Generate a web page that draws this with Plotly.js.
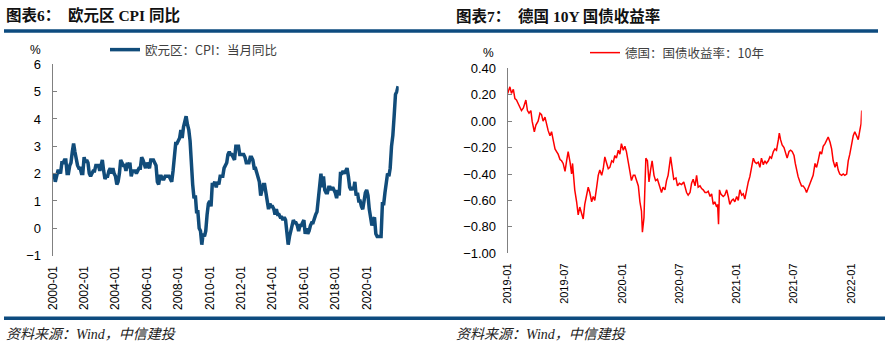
<!DOCTYPE html>
<html><head><meta charset="utf-8">
<script src="https://cdn.plot.ly/plotly-3.0.1.min.js"></script>
<style>html,body{margin:0;padding:0;background:#fff}#chart{width:885px;height:350px}</style>
</head><body><div id="chart"></div>
<script>
// ---------- Left chart: Euro area CPI YoY (monthly, from 2000-01) ----------
const cpiFirstYear = 2000;
const euroCpiYoY = [
  1.9,2.0,1.7,1.9,2.1,2.1,2.0,2.4,2.4,2.5,2.5,2.0,   // 2000
  2.0,2.3,2.4,2.8,3.1,2.8,2.5,2.3,2.2,2.2,2.0,2.0,   // 2001
  2.6,2.4,2.5,2.4,2.0,1.9,2.0,2.1,2.1,2.3,2.3,2.3,   // 2002
  2.1,2.4,2.5,2.1,1.8,1.9,1.9,2.1,2.2,2.0,2.2,2.0,   // 2003
  1.9,1.6,1.7,2.0,2.5,2.4,2.3,2.3,2.1,2.4,2.2,2.4,   // 2004
  1.9,2.1,2.1,2.1,2.0,2.1,2.2,2.2,2.6,2.5,2.3,2.2,   // 2005
  2.4,2.3,2.2,2.5,2.5,2.5,2.4,2.3,1.7,1.6,1.9,1.9,   // 2006
  1.8,1.8,1.9,1.9,1.9,1.9,1.8,1.7,2.1,2.6,3.1,3.1,   // 2007
  3.2,3.3,3.6,3.3,3.7,4.0,4.1,3.8,3.6,3.2,2.1,1.6,   // 2008
  1.1,1.2,0.6,0.6,0.0,-0.1,-0.6,-0.2,-0.3,-0.1,0.5,0.9, // 2009
  1.0,0.8,1.6,1.6,1.7,1.5,1.7,1.6,1.9,1.9,1.9,2.2,   // 2010
  2.3,2.4,2.7,2.8,2.7,2.7,2.6,2.5,3.0,3.0,3.0,2.7,   // 2011
  2.7,2.7,2.7,2.6,2.4,2.4,2.4,2.6,2.6,2.5,2.2,2.2,   // 2012
  2.0,1.8,1.7,1.2,1.4,1.6,1.6,1.3,1.1,0.7,0.9,0.8,   // 2013
  0.8,0.7,0.5,0.7,0.5,0.5,0.4,0.4,0.3,0.4,0.3,-0.2,  // 2014
  -0.6,-0.3,-0.1,0.0,0.3,0.2,0.2,0.1,-0.1,0.1,0.1,0.2, // 2015
  0.3,-0.2,0.0,-0.2,-0.1,0.1,0.2,0.2,0.4,0.5,0.6,1.1, // 2016
  1.7,2.0,1.5,1.9,1.4,1.3,1.3,1.5,1.5,1.4,1.5,1.4,   // 2017
  1.3,1.1,1.4,1.2,2.0,2.0,2.1,2.0,2.1,2.2,1.9,1.5,   // 2018
  1.4,1.5,1.4,1.7,1.2,1.3,1.0,1.0,0.8,0.7,1.0,1.3,   // 2019
  1.4,1.2,0.7,0.3,0.1,0.3,0.4,-0.2,-0.3,-0.3,-0.3,-0.3, // 2020
  0.9,0.9,1.3,1.6,2.0,1.9,2.2,3.0,3.4,4.1,4.9,5.0,   // 2021
  5.2                                                 // 2022-01
];
const leftTickLabels = ['2000-01','2002-01','2004-01','2006-01','2008-01','2010-01','2012-01','2014-01','2016-01','2018-01','2020-01'];
const leftSeriesName = '欧元区：CPI：当月同比';

// ---------- Right chart: German 10Y Bund yield ----------
const bundDates = [
 '2019-01-01','2019-01-08','2019-01-13','2019-01-19','2019-01-24','2019-01-29',
 '2019-02-04','2019-02-09','2019-02-14','2019-02-20','2019-02-25','2019-02-28',
 '2019-03-05','2019-03-10','2019-03-16','2019-03-20','2019-03-27',
 '2019-04-01','2019-04-08','2019-04-14','2019-04-19','2019-04-24','2019-04-30',
 '2019-05-05','2019-05-10','2019-05-16','2019-05-21','2019-05-26',
 '2019-06-01','2019-06-06','2019-06-11','2019-06-17','2019-06-22','2019-06-27',
 '2019-07-03','2019-07-08','2019-07-13','2019-07-19','2019-07-24','2019-07-27','2019-07-30',
 '2019-08-03','2019-08-09','2019-08-14','2019-08-19','2019-08-25','2019-08-30',
 '2019-09-04','2019-09-10','2019-09-15','2019-09-20','2019-09-26',
 '2019-10-01','2019-10-06','2019-10-12','2019-10-17','2019-10-22','2019-10-28',
 '2019-11-02','2019-11-07','2019-11-13','2019-11-18','2019-11-23','2019-11-29',
 '2019-12-04','2019-12-09','2019-12-14','2019-12-20','2019-12-25','2019-12-30',
 '2020-01-05','2020-01-10','2020-01-15','2020-01-21','2020-01-26','2020-01-31',
 '2020-02-06','2020-02-11','2020-02-16','2020-02-22','2020-02-27',
 '2020-03-03','2020-03-06','2020-03-11','2020-03-14','2020-03-17','2020-03-22','2020-03-27',
 '2020-04-01','2020-04-06','2020-04-12','2020-04-17','2020-04-23','2020-04-29',
 '2020-05-06','2020-05-11','2020-05-17','2020-05-22','2020-05-27',
 '2020-06-04','2020-06-09','2020-06-14','2020-06-21','2020-06-26',
 '2020-07-02','2020-07-09','2020-07-16','2020-07-25','2020-07-30',
 '2020-08-05','2020-08-10','2020-08-15','2020-08-21','2020-08-26','2020-08-31',
 '2020-09-06','2020-09-11','2020-09-16','2020-09-22','2020-09-27',
 '2020-10-02','2020-10-08','2020-10-13','2020-10-18','2020-10-23','2020-10-29',
 '2020-11-01','2020-11-04','2020-11-07','2020-11-11','2020-11-15','2020-11-19','2020-11-24','2020-11-30',
 '2020-12-05','2020-12-10','2020-12-16','2020-12-21','2020-12-26',
 '2021-01-01','2021-01-06','2021-01-11','2021-01-17','2021-01-22','2021-01-27',
 '2021-02-02','2021-02-07','2021-02-12','2021-02-18','2021-02-23','2021-02-28',
 '2021-03-05','2021-03-11','2021-03-16','2021-03-21','2021-03-27',
 '2021-04-01','2021-04-06','2021-04-12','2021-04-17','2021-04-22','2021-04-28',
 '2021-05-03','2021-05-08','2021-05-14','2021-05-17','2021-05-21','2021-05-26',
 '2021-06-01','2021-06-07','2021-06-11','2021-06-17','2021-06-22','2021-06-27',
 '2021-07-03','2021-07-07','2021-07-11','2021-07-16','2021-07-22','2021-07-27',
 '2021-08-01','2021-08-07','2021-08-12','2021-08-17','2021-08-23','2021-08-28',
 '2021-09-02','2021-09-08','2021-09-13','2021-09-18','2021-09-24','2021-09-29',
 '2021-10-04','2021-10-10','2021-10-15','2021-10-20','2021-10-26','2021-10-31',
 '2021-11-05','2021-11-11','2021-11-16','2021-11-21','2021-11-26',
 '2021-12-02','2021-12-07','2021-12-12','2021-12-18','2021-12-23','2021-12-28',
 '2022-01-03','2022-01-08','2022-01-13','2022-01-19','2022-01-24','2022-01-29',
 '2022-02-02','2022-02-04'
];
const bundYield = [
 0.21,0.26,0.21,0.24,0.17,0.16,
 0.13,0.10,0.08,0.10,0.14,0.16,
 0.08,0.06,0.08,0.00,-0.08,
 -0.03,0.00,0.06,0.05,0.00,0.03,
 -0.03,-0.07,-0.11,-0.08,-0.14,
 -0.21,-0.23,-0.25,-0.29,-0.30,-0.32,
 -0.38,-0.30,-0.23,-0.31,-0.40,-0.32,-0.41,
 -0.52,-0.61,-0.71,-0.65,-0.69,-0.74,
 -0.63,-0.57,-0.50,-0.54,-0.61,
 -0.57,-0.60,-0.50,-0.41,-0.37,-0.41,
 -0.36,-0.27,-0.32,-0.36,-0.35,-0.30,
 -0.31,-0.26,-0.28,-0.22,-0.25,-0.17,
 -0.22,-0.19,-0.23,-0.30,-0.38,-0.45,
 -0.41,-0.41,-0.44,-0.49,-0.61,
 -0.68,-0.84,-0.73,-0.50,-0.28,-0.30,-0.46,
 -0.37,-0.30,-0.41,-0.45,-0.44,-0.49,
 -0.54,-0.50,-0.52,-0.45,-0.41,
 -0.27,-0.35,-0.44,-0.43,-0.49,
 -0.47,-0.48,-0.46,-0.54,-0.56,
 -0.54,-0.47,-0.44,-0.49,-0.41,-0.50,
 -0.49,-0.51,-0.52,-0.54,-0.54,
 -0.53,-0.57,-0.55,-0.63,-0.61,-0.65,
 -0.63,-0.78,-0.52,-0.55,-0.56,-0.57,-0.56,-0.52,
 -0.57,-0.63,-0.60,-0.59,-0.61,
 -0.57,-0.60,-0.52,-0.56,-0.55,-0.59,
 -0.51,-0.46,-0.42,-0.35,-0.28,-0.31,
 -0.32,-0.31,-0.35,-0.28,-0.33,
 -0.30,-0.32,-0.30,-0.27,-0.28,-0.23,
 -0.21,-0.22,-0.14,-0.09,-0.14,-0.18,
 -0.20,-0.26,-0.28,-0.23,-0.22,-0.23,
 -0.26,-0.32,-0.37,-0.42,-0.46,-0.49,
 -0.49,-0.51,-0.54,-0.51,-0.47,-0.45,
 -0.41,-0.32,-0.35,-0.30,-0.23,-0.25,
 -0.19,-0.17,-0.14,-0.12,-0.16,-0.21,
 -0.30,-0.35,-0.31,-0.37,-0.40,
 -0.41,-0.40,-0.41,-0.40,-0.30,-0.25,
 -0.17,-0.11,-0.08,-0.11,-0.14,-0.07,
 -0.02,0.08
];
const rightTickLabels = ['2019-01','2019-07','2020-01','2020-07','2021-01','2021-07','2022-01'];
const rightSeriesName = '德国：国债收益率：10年';

// build monthly dates for left series
const cpiDates = euroCpiYoY.map((v, i) => {
  const y = cpiFirstYear + Math.floor(i / 12), m = (i % 12) + 1;
  return y + '-' + (m < 10 ? '0' + m : m) + '-01';
});

const W = 885, H = 350;
const px = v => v / W, py = v => 1 - v / H;

const navy = '#114c7a', ruleColor = '#0d4b7f', axisGrey = '#808080';
const latin = 'Liberation Sans, Arial, sans-serif';
const cjk = 'Noto Sans CJK SC, sans-serif';
const serifCjk = 'Liberation Serif, Noto Sans CJK SC, serif';

const lyDom = [py(255.6), py(64.3)];
const ryDom = [py(253.3), py(68.3)];
const lxDom = [px(52.7), px(398.7)];
const rxDom = [px(507.7), px(861.7)];
const lZeroPos = lyDom[0] + (lyDom[1] - lyDom[0]) * (1 / 7);
const rZeroPos = ryDom[0] + (ryDom[1] - ryDom[0]) * (1 / 1.4);
const lRange = ['2000-01-01', '2022-01-15'];
const rRange = ['2019-01-01', '2022-02-04'];

const traces = [
  {x: cpiDates, y: euroCpiYoY, type: 'scatter', mode: 'lines', name: leftSeriesName,
   xaxis: 'x', yaxis: 'y', line: {color: navy, width: 3.5}, legend: 'legend'},
  {x: bundDates, y: bundYield, type: 'scatter', mode: 'lines', name: rightSeriesName,
   xaxis: 'x3', yaxis: 'y2', line: {color: '#ff0000', width: 1.5}, legend: 'legend2'}
];

const labelAxis = (dom, range, anchor, labels, size) => ({
  domain: dom, range: range, type: 'date', anchor: anchor,
  tickvals: labels.map(s => s + '-01'), ticktext: labels, tickangle: -90,
  showline: false, ticks: '', showgrid: false, zeroline: false,
  tickfont: {family: latin, size: size, color: '#000'}, ticklabelstandoff: 7
});
const zeroAxis = (over, range, pos, labels) => ({
  overlaying: over, anchor: 'free', position: pos, range: range, type: 'date',
  tickvals: labels.map(s => s + '-01'), showticklabels: false,
  ticks: 'inside', ticklen: 5, tickcolor: axisGrey, tickwidth: 1,
  showline: true, linecolor: axisGrey, linewidth: 1, showgrid: false, zeroline: false
});
const valAxis = (dom, range, anchor, dtick, fmt) => ({
  domain: dom, range: range, anchor: anchor, dtick: dtick, tick0: 0, tickformat: fmt,
  ticks: 'inside', ticklen: 4, tickcolor: axisGrey, showline: true, linecolor: axisGrey,
  linewidth: 1, showgrid: false, zeroline: false, ticklabelstandoff: 8,
  tickfont: {family: latin, size: 13, color: '#000'}
});

const layout = {
  width: W, height: H, margin: {l: 0, r: 0, t: 0, b: 0},
  paper_bgcolor: '#fff', plot_bgcolor: 'rgba(0,0,0,0)',
  xaxis: labelAxis(lxDom, lRange, 'y', leftTickLabels, 12),
  xaxis2: zeroAxis('x', lRange, lZeroPos, leftTickLabels),
  yaxis: valAxis(lyDom, [-1, 6], 'x', 1, 'd'),
  xaxis3: labelAxis(rxDom, rRange, 'y2', rightTickLabels, 11),
  xaxis4: zeroAxis('x3', rRange, rZeroPos, rightTickLabels),
  yaxis2: valAxis(ryDom, [-1, 0.4], 'x3', 0.2, '.2f'),
  showlegend: true,
  legend: {x: px(105), y: py(50), xanchor: 'left', yanchor: 'middle', bgcolor: 'rgba(0,0,0,0)',
           font: {family: cjk, size: 12.5, color: '#404040'}, itemwidth: 30},
  legend2: {x: px(585), y: py(53), xanchor: 'left', yanchor: 'middle', bgcolor: 'rgba(0,0,0,0)',
            font: {family: cjk, size: 12.5, color: '#404040'}, itemwidth: 30},
  shapes: [
    {type: 'line', xref: 'paper', yref: 'paper', x0: px(4), x1: px(878), y0: py(31), y1: py(31),
     line: {color: ruleColor, width: 3.5}},
    {type: 'line', xref: 'paper', yref: 'paper', x0: px(4), x1: px(885), y0: py(318.3), y1: py(318.3),
     line: {color: ruleColor, width: 3.5}}
  ],
  annotations: [
    {text: '<b>图表6：\u00a0\u00a0欧元区 CPI 同比</b>', xref: 'paper', yref: 'paper', x: px(4), y: py(16),
     xanchor: 'left', yanchor: 'middle', showarrow: false, font: {family: serifCjk, size: 15.5, color: '#111'}},
    {text: '<b>图表7：\u00a0\u00a0德国 10Y 国债收益率</b>', xref: 'paper', yref: 'paper', x: px(454), y: py(16),
     xanchor: 'left', yanchor: 'middle', showarrow: false, font: {family: serifCjk, size: 15.5, color: '#111'}},
    {text: '%', xref: 'paper', yref: 'paper', x: px(35), y: py(50), xanchor: 'center', yanchor: 'middle',
     showarrow: false, font: {family: latin, size: 12, color: '#000'}},
    {text: '%', xref: 'paper', yref: 'paper', x: px(488), y: py(53), xanchor: 'center', yanchor: 'middle',
     showarrow: false, font: {family: latin, size: 12, color: '#000'}},
    {text: '<i>资料来源：Wind，中信建投</i>', xref: 'paper', yref: 'paper', x: px(4), y: py(334),
     xanchor: 'left', yanchor: 'middle', showarrow: false, font: {family: serifCjk, size: 14, color: '#222'}},
    {text: '<i>资料来源：Wind，中信建投</i>', xref: 'paper', yref: 'paper', x: px(454), y: py(334),
     xanchor: 'left', yanchor: 'middle', showarrow: false, font: {family: serifCjk, size: 14, color: '#222'}}
  ]
};

Plotly.newPlot('chart', traces, layout, {staticPlot: true, displayModeBar: false});
</script></body></html>
